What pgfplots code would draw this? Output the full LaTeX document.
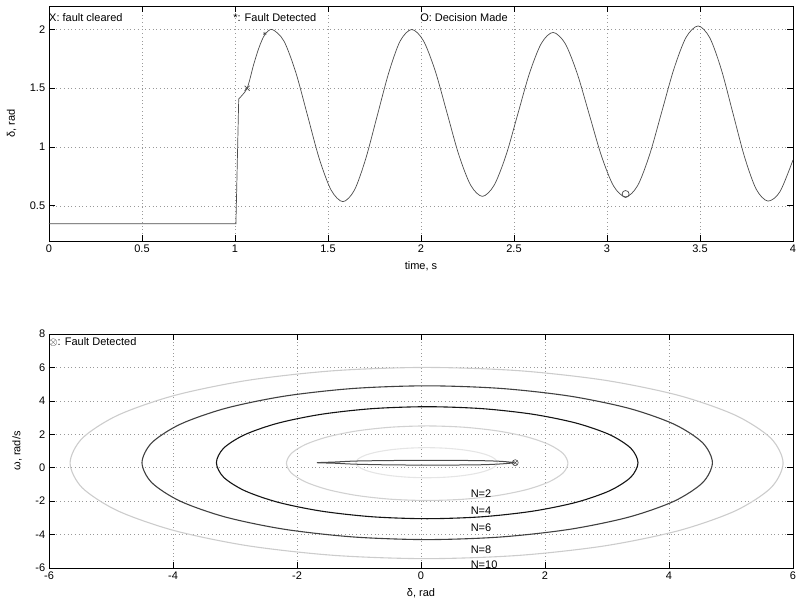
\documentclass[border=0pt]{standalone}
\usepackage{fontspec}
\setmainfont{Liberation Sans}
\usepackage{pgfplots}
\pgfplotsset{compat=1.18}
\usetikzlibrary{plotmarks}
\definecolor{cten}{gray}{0.80}
\definecolor{ceight}{gray}{0.25}
\definecolor{csix}{gray}{0.08}
\definecolor{cfour}{gray}{0.82}
\definecolor{ctwo}{gray}{0.90}
\definecolor{ccurve}{gray}{0.30}
\pgfplotsset{
  mystyle/.style={
    scale only axis, width=744pt,
    axis line style={black, line width=0.8pt},
    tick align=inside, major tick length=6pt,
    every tick/.style={black, line width=0.6pt},
    grid=major,
    major grid style={gray!80, dash pattern=on 0.7pt off 3pt, line width=0.5pt},
    /pgf/number format/assume math mode=true,
    font=\fontsize{11}{13}\selectfont,
    tick label style={font=\fontsize{11}{13}\selectfont},
    label style={font=\fontsize{11}{13}\selectfont},
    ylabel shift=6pt, xlabel shift=1pt,
    clip mode=individual,
  }
}
\begin{document}
\fontsize{11}{13}\selectfont
\begin{tikzpicture}
\path[use as bounding box] (0pt,0pt) rectangle (798pt,-606pt);
% ---------------- top axis ----------------
\begin{axis}[mystyle, height=235pt, at={(49pt,-241pt)}, anchor=south west,
  xmin=0, xmax=4, ymin=0.2, ymax=2.2,
  xtick={0,0.5,1,1.5,2,2.5,3,3.5,4}, ytick={0.5,1,1.5,2},
  xlabel={time, s}, ylabel={δ, rad}]
\addplot[ccurve, line width=0.7pt] coordinates {(0,0.347)(1.005,0.347)(1.02,1.41)};
\addplot[ccurve, line width=0.7pt, smooth] coordinates {
(1.02,1.41)(1.065,1.50)(1.10,1.70)(1.13,1.85)(1.16,1.955)(1.20,2.00)
(1.263,1.902)(1.327,1.634)(1.39,1.268)(1.453,0.901)(1.517,0.633)(1.58,0.535)
(1.642,0.633)(1.703,0.901)(1.765,1.268)(1.827,1.634)(1.888,1.902)(1.95,2.00)
(2.013,1.905)(2.077,1.645)(2.14,1.29)(2.203,0.935)(2.267,0.675)(2.33,0.58)
(2.393,0.674)(2.457,0.929)(2.52,1.278)(2.583,1.626)(2.647,1.882)(2.71,1.975)
(2.775,1.881)(2.84,1.625)(2.905,1.275)(2.97,0.925)(3.035,0.669)(3.10,0.575)
(3.165,0.672)(3.23,0.939)(3.295,1.303)(3.36,1.666)(3.425,1.933)(3.49,2.03)
(3.5525,1.93)(3.615,1.658)(3.6775,1.285)(3.74,0.913)(3.8025,0.64)(3.865,0.54)
(3.93,0.62)(4.0,0.89)};
\addplot[only marks, mark=x, mark size=3.5pt, ccurve, line width=0.7pt] coordinates {(1.065,1.5)};
\addplot[only marks, mark=asterisk, mark size=1.8pt, ccurve, line width=0.5pt] coordinates {(1.16,1.965)};
\addplot[only marks, mark=o, mark size=3.5pt, ccurve, line width=0.7pt] coordinates {(3.10,0.60)};
\node[anchor=west, inner sep=0pt] at (axis cs:0,2.1) {X: fault cleared};
\node[anchor=west, inner sep=0pt] at (axis cs:0.99,2.1) {*: Fault Detected};
\node[anchor=west, inner sep=0pt] at (axis cs:1.995,2.1) {O: Decision Made};
\end{axis}
% ---------------- bottom axis ----------------
\begin{axis}[mystyle, height=234pt, at={(49pt,-568pt)}, anchor=south west,
  xmin=-6, xmax=6, ymin=-6, ymax=8,
  xtick={-6,-4,-2,0,2,4,6}, ytick={-6,-4,-2,0,2,4,6,8},
  xlabel={δ, rad}, ylabel={ω, rad/s}]
\addplot[cten, line width=1.1pt, smooth cycle] coordinates {
(5.84,0.28)(5.644,1.76)(5.07,3.14)(4.156,4.325)(2.965,5.234)(1.578,5.805)(0.09,6.0)
(-1.398,5.805)(-2.785,5.234)(-3.976,4.325)(-4.89,3.14)(-5.464,1.76)(-5.66,0.28)
(-5.464,-1.2)(-4.89,-2.58)(-3.976,-3.765)(-2.785,-4.674)(-1.398,-5.245)(0.09,-5.44)
(1.578,-5.245)(2.965,-4.674)(4.156,-3.765)(5.07,-2.58)(5.644,-1.2)};
\addplot[ceight, line width=1.1pt, smooth cycle] coordinates {
(4.7,0.3)(4.543,1.49)(4.084,2.6)(3.353,3.553)(2.4,4.284)(1.29,4.743)(0.1,4.9)
(-1.09,4.743)(-2.2,4.284)(-3.153,3.553)(-3.884,2.6)(-4.343,1.49)(-4.5,0.3)
(-4.343,-0.89)(-3.884,-2.0)(-3.153,-2.953)(-2.2,-3.684)(-1.09,-4.143)(0.1,-4.3)
(1.29,-4.143)(2.4,-3.684)(3.353,-2.953)(4.084,-2.0)(4.543,-0.89)};
\addplot[csix, line width=1.1pt, smooth cycle] coordinates {
(3.5,0.3)(3.384,1.167)(3.044,1.975)(2.504,2.669)(1.8,3.201)(0.98,3.536)(0.1,3.65)
(-0.78,3.536)(-1.6,3.201)(-2.304,2.669)(-2.844,1.975)(-3.184,1.167)(-3.3,0.3)
(-3.184,-0.567)(-2.844,-1.375)(-2.304,-2.069)(-1.6,-2.601)(-0.78,-2.936)(0.1,-3.05)
(0.98,-2.936)(1.8,-2.601)(2.504,-2.069)(3.044,-1.375)(3.384,-0.567)};
\addplot[cfour, line width=1.1pt, smooth cycle] coordinates {
(2.37,0.27)(2.293,0.847)(2.066,1.385)(1.705,1.847)(1.235,2.201)(0.6875,2.424)(0.1,2.5)
(-0.4875,2.424)(-1.035,2.201)(-1.505,1.847)(-1.866,1.385)(-2.093,0.847)(-2.17,0.27)
(-2.093,-0.307)(-1.866,-0.845)(-1.505,-1.307)(-1.035,-1.661)(-0.4875,-1.884)(0.1,-1.96)
(0.6875,-1.884)(1.235,-1.661)(1.705,-1.307)(2.066,-0.845)(2.293,-0.307)};
\addplot[ctwo, line width=1.1pt, smooth cycle] coordinates {
(1.23,0.3)(1.191,0.533)(1.077,0.75)(0.896,0.936)(0.66,1.079)(0.385,1.169)(0.09,1.2)
(-0.205,1.169)(-0.48,1.079)(-0.716,0.936)(-0.897,0.75)(-1.011,0.533)(-1.05,0.3)
(-1.011,0.067)(-0.897,-0.15)(-0.716,-0.336)(-0.48,-0.479)(-0.205,-0.569)(0.09,-0.6)
(0.385,-0.569)(0.66,-0.479)(0.896,-0.336)(1.077,-0.15)(1.191,0.067)};
\addplot[ccurve, line width=1.0pt, smooth] coordinates {
(1.5,0.31)(1.3,0.38)(1.0,0.42)(0.5,0.44)(0,0.44)(-0.5,0.43)(-1.05,0.40)(-1.4,0.34)(-1.68,0.30)
(-1.4,0.27)(-1.05,0.21)(-0.5,0.17)(0,0.16)(0.5,0.16)(1.0,0.18)(1.3,0.23)(1.5,0.29)};
\addplot[only marks, mark=otimes, mark size=3pt, ccurve, line width=0.6pt] coordinates {(1.52,0.3)};
\node[anchor=west, inner sep=0pt] at (axis cs:-6,7.55) {$\otimes$: Fault Detected};
\node[anchor=west, inner sep=0pt] at (axis cs:0.8,-1.55) {N=2};
\node[anchor=west, inner sep=0pt] at (axis cs:0.8,-2.57) {N=4};
\node[anchor=west, inner sep=0pt] at (axis cs:0.8,-3.58) {N=6};
\node[anchor=west, inner sep=0pt] at (axis cs:0.8,-4.9) {N=8};
\node[anchor=west, inner sep=0pt] at (axis cs:0.8,-5.8) {N=10};
\end{axis}
\end{tikzpicture}
\end{document}
